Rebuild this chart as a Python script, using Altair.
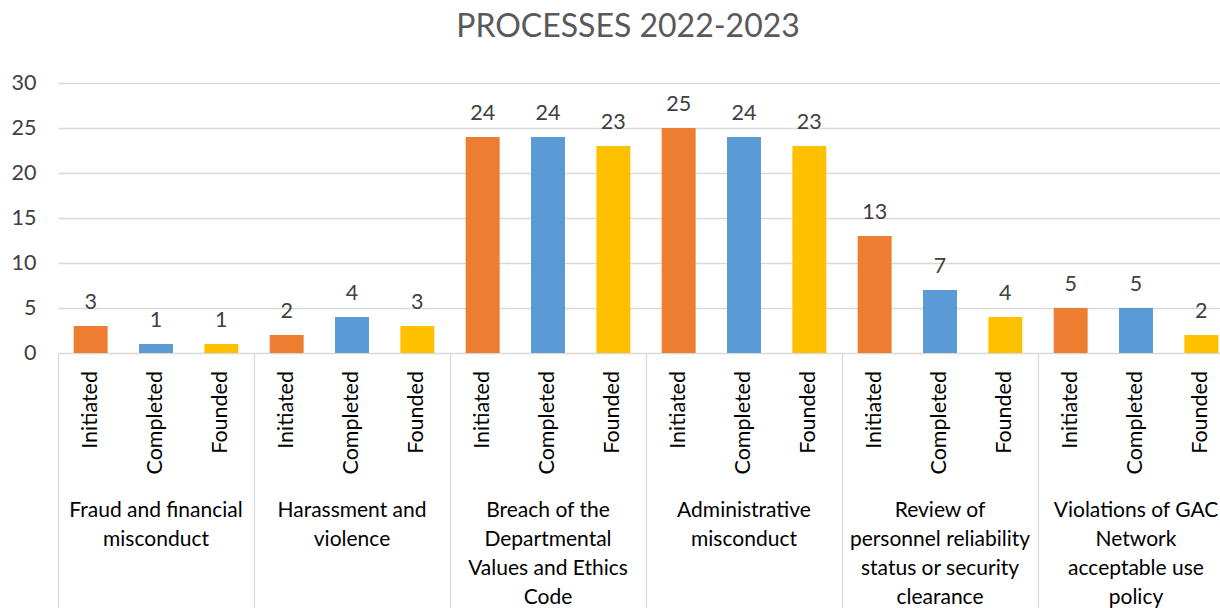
import altair as alt
import pandas as pd

groups = [
    "Fraud and financial misconduct",
    "Harassment and violence",
    "Breach of the Departmental Values and Ethics Code",
    "Administrative misconduct",
    "Review of personnel reliability status or security clearance",
    "Violations of GAC Network acceptable use policy",
]
group_lines = [
    "Fraud and financial\nmisconduct",
    "Harassment and\nviolence",
    "Breach of the\nDepartmental\nValues and Ethics\nCode",
    "Administrative\nmisconduct",
    "Review of\npersonnel reliability\nstatus or security\nclearance",
    "Violations of GAC\nNetwork\nacceptable use\npolicy",
]
subs = ["Initiated", "Completed", "Founded"]
initiated = [3, 2, 24, 25, 13, 5]
completed = [1, 4, 24, 24, 7, 5]
founded = [1, 3, 23, 23, 4, 2]
colors = ["#ED7D31", "#5B9BD5", "#FFC000"]

rows = []
for i, g in enumerate(groups):
    for s, vals in zip(subs, [initiated, completed, founded]):
        rows.append({"group": g, "sub": s, "value": vals[i]})
df = pd.DataFrame(rows)
glab = pd.DataFrame({"group": groups, "label": group_lines})

FONT = "Lato"
xscale = alt.Scale(domain=groups, range=[0, 1176], paddingInner=0, paddingOuter=0)
xoff = alt.XOffset("sub:N", sort=subs,
                   scale=alt.Scale(domain=subs, paddingInner=0.48, paddingOuter=0.24))
yscale = alt.Scale(domain=[0, 30])

base = alt.Chart(df)

bars = base.mark_bar().encode(
    x=alt.X("group:N", sort=groups, scale=xscale,
            axis=alt.Axis(title=None, labels=False, domain=False, bandPosition=0,
                          ticks=True, tickSize=270, tickColor="#d9d9d9", tickWidth=1.3,
                          grid=False)),
    xOffset=xoff,
    y=alt.Y("value:Q", scale=yscale,
            axis=alt.Axis(title=None, values=[0, 5, 10, 15, 20, 25, 30], domain=False,
                          ticks=False, gridColor="#d9d9d9", gridWidth=1.3,
                          labelFontSize=21.5, labelColor="#404040", labelFont=FONT,
                          labelPadding=22)),
    color=alt.Color("sub:N", sort=subs, scale=alt.Scale(domain=subs, range=colors),
                    legend=None),
)

vals = base.mark_text(font=FONT, fontSize=21.5, color="#404040", baseline="alphabetic",
                      dy=-17).encode(
    x=alt.X("group:N", sort=groups, scale=xscale),
    xOffset=xoff,
    y=alt.Y("value:Q", scale=yscale),
    text="value:Q",
)

sublabels = base.mark_text(font=FONT, fontSize=21.5, color="#000000", angle=270,
                           align="right", baseline="middle").encode(
    x=alt.X("group:N", sort=groups, scale=xscale),
    xOffset=xoff,
    y=alt.value(288),
    text="sub:N",
)

grouplabels = alt.Chart(glab).mark_text(font=FONT, fontSize=21, color="#000000",
                                         align="center", baseline="top",
                                         lineBreak="\n", lineHeight=29).encode(
    x=alt.X("group:N", sort=groups, scale=xscale),
    y=alt.value(417),
    text="label:N",
)

chart = alt.layer(bars, vals, sublabels, grouplabels).properties(
    width=1162, height=270,
    title=alt.Title("PROCESSES 2022-2023", font=FONT, fontSize=32, color="#595959",
                    fontWeight="normal", anchor="middle", offset=0, dx=-11),
    autosize=alt.AutoSizeParams(type="none"),
    padding={"left": 58, "top": 83, "right": 0, "bottom": 255},
).configure_view(stroke=None).configure_title(dy=-28)

chart.save("out.html", embed_options={"renderer": "svg", "actions": False})
